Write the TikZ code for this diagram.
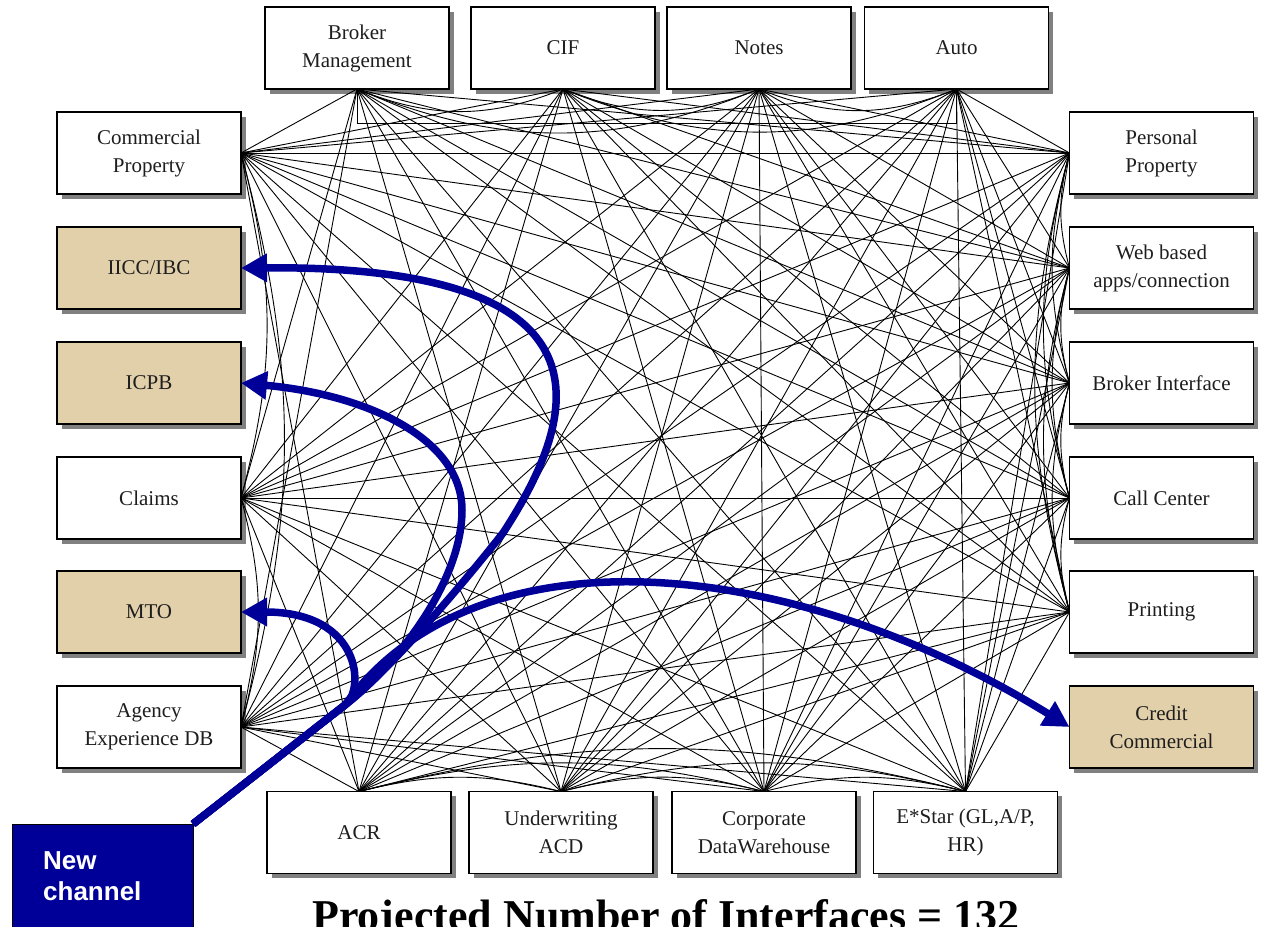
\documentclass[tikz,border=0pt]{standalone}
\usepackage{fontspec}
\setmainfont{Liberation Serif}
\newfontfamily\chanfont{Liberation Sans}
\usetikzlibrary{shadows,arrows.meta}
\definecolor{navy}{RGB}{0,0,153}
\definecolor{parchment}{RGB}{226,208,170}
\definecolor{shadowgray}{RGB}{128,128,128}
\definecolor{ink}{RGB}{30,30,30}
\tikzset{
  sysbox/.style={draw=black, line width=1.3pt, fill=white, outer sep=0pt,
    minimum width=184pt, minimum height=82pt, inner sep=0pt, align=center,
    font=\fontsize{21}{28}\selectfont, text=ink,
    drop shadow={shadow xshift=4.5pt, shadow yshift=-4.5pt, fill=shadowgray, opacity=1}},
  newbox/.style={sysbox, fill=parchment},
  link/.style={line width=0.9pt, black},
  flow/.style={navy, line width=7.5pt, line join=round,
    -{Triangle[length=26pt,width=27pt]}},
  chanbox/.style={draw=black, line width=0.8pt, fill=navy, outer sep=0pt,
    minimum width=180.5pt, minimum height=140pt, inner sep=0pt},
  chantext/.style={text=white, align=left, inner sep=0pt,
    font=\chanfont\bfseries\fontsize{26}{31}\selectfont},
}
\begin{document}
\begin{tikzpicture}[x=1pt,y=-1pt]
\useasboundingbox (0,0) rectangle (1262,927);

% top row
\node[sysbox] (bm)    at (357,48)   {Broker\\Management};
\node[sysbox] (cif)   at (563,48)   {CIF};
\node[sysbox] (notes) at (759,48)   {Notes};
\node[sysbox] (auto)  at (956.5,48) {Auto};
% left column
\node[sysbox] (cp)     at (149,153) {Commercial\\Property};
\node[newbox] (iicc)   at (149,268) {IICC/IBC};
\node[newbox] (icpb)   at (149,383) {ICPB};
\node[sysbox] (claims) at (149,498) {Claims};
\node[newbox] (mto)    at (149,612) {MTO};
\node[sysbox] (agency) at (149,727) {Agency\\Experience DB};
% right column
\node[sysbox] (pp)     at (1161.5,153) {Personal\\Property};
\node[sysbox] (web)    at (1161.5,268) {Web based\\apps/connection};
\node[sysbox] (bi)     at (1161.5,383) {Broker Interface};
\node[sysbox] (cc)     at (1161.5,498) {Call Center};
\node[sysbox] (prt)    at (1161.5,612) {Printing};
\node[newbox] (credit) at (1161.5,727) {Credit\\Commercial};
% bottom row
\node[sysbox] (acr)   at (359,832.5)   {ACR};
\node[sysbox] (uw)    at (561,832.5)   {Underwriting\\ACD};
\node[sysbox] (cdw)   at (764,832.5)   {Corporate\\DataWarehouse};
\node[sysbox] (estar) at (965.5,832.5) {E*Star (GL,A/P,\\HR)};

% point-to-point interfaces between systems on different sides
\foreach \a in {bm,cif,notes,auto}{
  \foreach \b in {cp,claims,agency} \draw[link] (\a.south) -- (\b.east);
  \foreach \b in {pp,web,bi,cc,prt} \draw[link] (\a.south) -- (\b.west);
}
\foreach \a/\b in {bm/uw,bm/cdw,bm/estar,cif/acr,cif/cdw,cif/estar,
    notes/acr,notes/uw,notes/cdw,notes/estar,
    auto/acr,auto/uw,auto/cdw,auto/estar}
  \draw[link] (\a.south) -- (\b.north);
\foreach \a in {cp,claims,agency}{
  \foreach \b in {pp,web,bi,cc,prt} \draw[link] (\a.east) -- (\b.west);
  \foreach \b in {acr,uw,cdw,estar} \draw[link] (\a.east) -- (\b.north);
}
\foreach \a in {pp,web,bi,cc,prt}
  \foreach \b in {acr,uw,cdw,estar} \draw[link] (\a.west) -- (\b.north);

% interfaces between systems on the same side
\foreach \a/\b in {bm/cif,bm/notes,cif/notes,cif/auto,notes/auto}
  \draw[link] (\a.south) to[bend right=22] (\b.south);
\draw[link] (bm.south) -- ++(0,34) -| (auto.south);
\foreach \a/\b in {cp/claims,cp/agency,claims/agency}
  \draw[link] (\a.east) to[bend left=15] (\b.east);
\foreach \a/\b in {pp/web,pp/bi,pp/cc,pp/prt,web/bi,web/cc,web/prt,bi/cc,bi/prt,cc/prt}
  \draw[link] (\a.west) to[bend right=15] (\b.west);
\foreach \a/\b in {acr/uw,acr/cdw,acr/estar,uw/cdw,uw/estar,cdw/estar}
  \draw[link] (\a.north) to[bend left=14] (\b.north);

% new channel and its links to the new systems
\node[chanbox, anchor=north west] (chan) at (12.5,824) {};
\node[chantext, anchor=north west] (chanlbl) at (43,851) {New\\channel};
\coordinate (fork) at (345,705);
\draw[flow] (chan.north east) -- (fork)
  .. controls (395,666) and (473,571) .. (503,533)
  .. controls (570,430) and (640,265) .. (iicc.east);
\draw[flow] (chan.north east) -- (fork)
  .. controls (400,662) and (462,580) .. (462,510)
  .. controls (462,440) and (370,395) .. (icpb.east);
\draw[flow] (chan.north east) -- (fork)
  .. controls (365,690) and (362,612) .. (mto.east);
\draw[flow] (chan.north east) -- (fork)
  .. controls (480,520) and (800,560) .. (credit.west);

% caption
\node[anchor=base, inner sep=0pt, text=black,
  font=\bfseries\fontsize{44}{50}\selectfont] (caption) at (666,930)
  {Projected Number of Interfaces = 132};
\end{tikzpicture}
\end{document}
